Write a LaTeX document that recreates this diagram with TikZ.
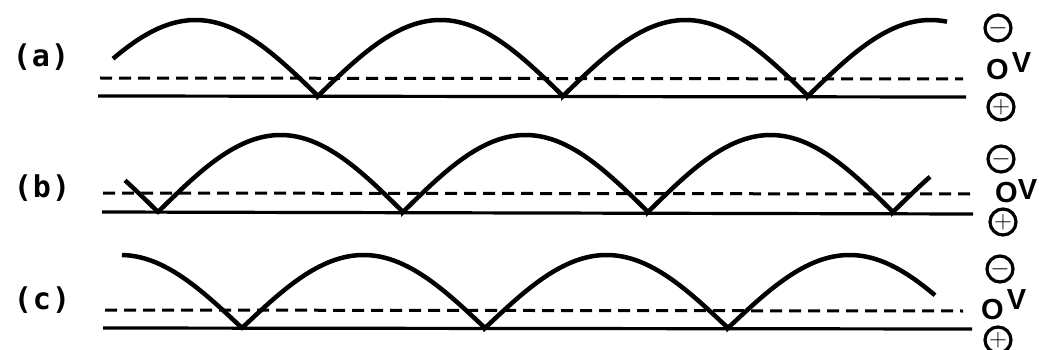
\documentclass[tikz,border=0pt]{standalone}
\usepackage{fontspec}
\newfontfamily\labfont{DejaVu Sans Mono}
\newfontfamily\vfont{Liberation Sans}
\begin{document}
\begin{tikzpicture}[x=1pt,y=-1pt,
  wave/.style={line width=4.5pt, line join=miter},
  base/.style={line width=3.2pt},
  dashline/.style={line width=3pt, dash pattern=on 12pt off 7pt},
  lab/.style={font=\labfont\bfseries\fontsize{30}{30}\selectfont, inner sep=0pt},
  pol/.style={draw, circle, line width=3.2pt, minimum size=26pt, inner sep=0pt,
              font=\vfont\bfseries\fontsize{24}{24}\selectfont},
  ov/.style={font=\vfont\bfseries\fontsize{29}{29}\selectfont, inner sep=0pt, anchor=base west}]
\useasboundingbox (0,0) rectangle (1039,350);

% ---------- row (a) ----------
\node[lab] (la) at (41,57) {(\kern1pt a\kern1pt)};
\draw[base] (98,96) -- (966,97);
\draw[dashline] (100,78) -- (963,79);
\draw[wave]
  plot[domain=113:318,samples=60] (\x,{96-76*abs(sin((\x-73)/245*180))})
  -- plot[domain=318:563,samples=70] (\x,{96-76*abs(sin((\x-73)/245*180))})
  -- plot[domain=563:808,samples=70] (\x,{96-76*abs(sin((\x-73)/245*180))})
  -- plot[domain=808:947,samples=50] (\x,{96-76*abs(sin((\x-73)/245*180))});
\node[pol] (ma) at (998,28) {$-$};
\node[ov] (za) at (986,80) {O\kern3pt\raisebox{7pt}{V}};
\node[pol] (pa) at (1001,107) {$+$};

% ---------- row (b) ----------
\node[lab] (lb) at (42,188) {(\kern1pt b\kern1pt)};
\draw[base] (102,212) -- (973,214);
\draw[dashline] (103,193) -- (970,194);
\draw[wave]
  plot[domain=125:158,samples=15] (\x,{212-77*abs(sin((\x-158)/245*180))})
  -- plot[domain=158:403,samples=70] (\x,{212-77*abs(sin((\x-158)/245*180))})
  -- plot[domain=403:648,samples=70] (\x,{212-77*abs(sin((\x-158)/245*180))})
  -- plot[domain=648:893,samples=70] (\x,{212-77*abs(sin((\x-158)/245*180))})
  -- plot[domain=893:930,samples=15] (\x,{212-77*abs(sin((\x-158)/245*180))});
\node[pol] (mb) at (1001,159) {$-$};
\node[ov] (zb) at (995,202) {O\kern0pt\raisebox{3pt}{V}};
\node[pol] (pb) at (1003,222) {$+$};

% ---------- row (c) ----------
\node[lab] (lc) at (42,300) {(\kern1pt c\kern1pt)};
\draw[base] (103,328) -- (972,329);
\draw[dashline] (105,310) -- (963,311);
\draw[wave]
  plot[domain=122:242,samples=40] (\x,{328-73*abs(sin((\x-242)/243*180))})
  -- plot[domain=242:485,samples=70] (\x,{328-73*abs(sin((\x-242)/243*180))})
  -- plot[domain=485:728,samples=70] (\x,{328-73*abs(sin((\x-242)/243*180))})
  -- plot[domain=728:935,samples=60] (\x,{328-73*abs(sin((\x-242)/243*180))});
\node[pol] (mc) at (1000,269) {$-$};
\node[ov] (zc) at (981,319) {O\kern3pt\raisebox{10pt}{V}};
\node[pol] (pc) at (998,340) {$+$};
\end{tikzpicture}
\end{document}
